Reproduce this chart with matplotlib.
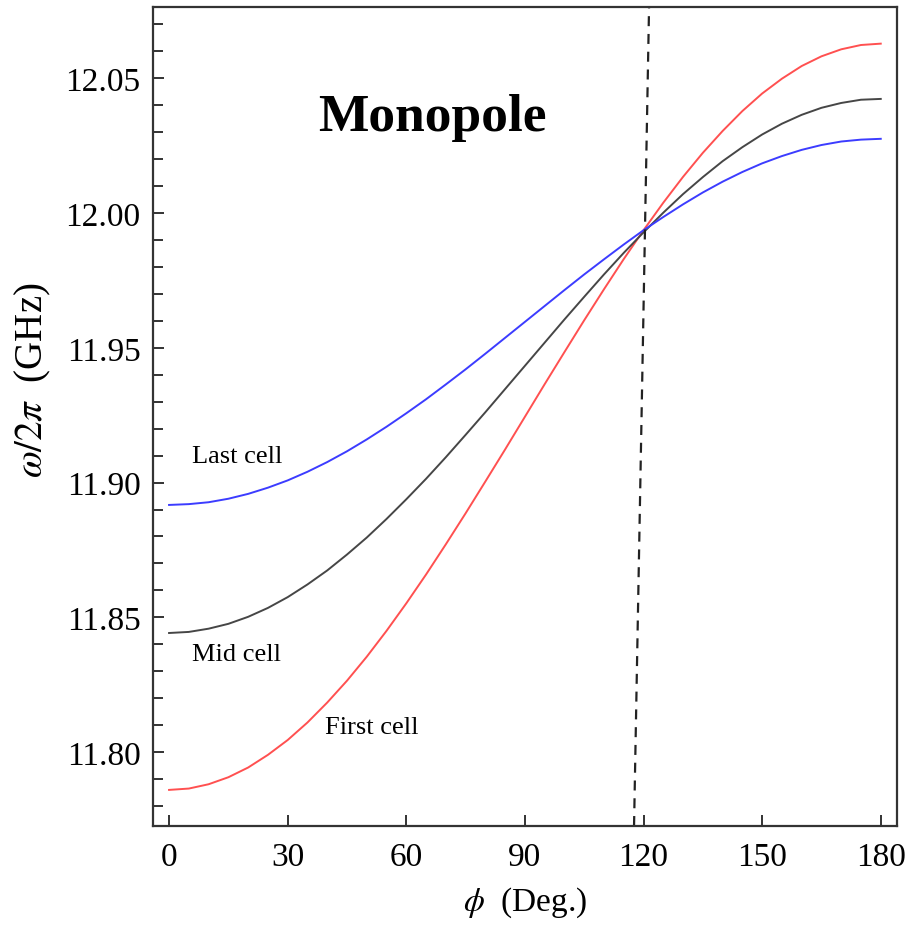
import matplotlib
matplotlib.use('Agg')
import matplotlib.pyplot as plt
from matplotlib.ticker import MultipleLocator

plt.rcParams['font.family'] = ['Liberation Serif', 'DejaVu Serif']
plt.rcParams['mathtext.fontset'] = 'stix'

# phase advance (deg.) and frequencies (GHz)
phi = [0, 5, 10, 15, 20, 25, 30, 35, 40, 45, 50, 55, 60, 65, 70, 75, 80, 85, 90,
       95, 100, 105, 110, 115, 120, 125, 130, 135, 140, 145, 150, 155, 160,
       165, 170, 175, 180]
first_cell = [11.7860, 11.7865, 11.7881, 11.7907, 11.7943, 11.7990, 11.8045,
              11.8110, 11.8184, 11.8265, 11.8354, 11.8450, 11.8552, 11.8659,
              11.8771, 11.8886, 11.9004, 11.9123, 11.9244, 11.9365, 11.9484,
              11.9602, 11.9717, 11.9829, 11.9936, 12.0038, 12.0134, 12.0223,
              12.0304, 12.0378, 12.0443, 12.0498, 12.0545, 12.0581, 12.0607,
              12.0623, 12.0628]
mid_cell = [11.8442, 11.8446, 11.8458, 11.8476, 11.8502, 11.8535, 11.8575,
            11.8622, 11.8674, 11.8733, 11.8796, 11.8865, 11.8938, 11.9014,
            11.9094, 11.9177, 11.9261, 11.9347, 11.9433, 11.9519, 11.9605,
            11.9689, 11.9772, 11.9852, 11.9928, 12.0001, 12.0070, 12.0133,
            12.0192, 12.0244, 12.0291, 12.0331, 12.0364, 12.0390, 12.0408,
            12.0420, 12.0423]
last_cell = [11.8917, 11.8920, 11.8927, 11.8940, 11.8958, 11.8981, 11.9008,
             11.9040, 11.9076, 11.9116, 11.9160, 11.9207, 11.9257, 11.9309,
             11.9364, 11.9420, 11.9478, 11.9537, 11.9596, 11.9655, 11.9714,
             11.9772, 11.9828, 11.9883, 11.9936, 11.9985, 12.0032, 12.0076,
             12.0116, 12.0152, 12.0184, 12.0211, 12.0234, 12.0252, 12.0265,
             12.0272, 12.0275]

# dashed marker line (slightly slanted in the reference)
dash_phi = [117.6, 121.4]
dash_freq = [11.7726, 12.0764]

x_ticks = [0, 30, 60, 90, 120, 150, 180]
y_ticks = [11.80, 11.85, 11.90, 11.95, 12.00, 12.05]

fig = plt.figure(figsize=(9.11, 9.28), dpi=100)
ax = fig.add_axes([0.168, 0.1088, 0.8166, 0.8826])

ax.plot(phi, first_cell, color='#ff5050', lw=1.4)
ax.plot(phi, mid_cell, color='#464646', lw=1.4)
ax.plot(phi, last_cell, color='#3c3cff', lw=1.4)
ax.plot(dash_phi, dash_freq, color='#222222', lw=1.6, dashes=(4.5, 3.5))

ax.set_xlim(-4.05, 184.1)
ax.set_ylim(11.7726, 12.0764)
ax.set_xticks(x_ticks)
ax.set_xticklabels([str(t) for t in x_ticks])
ax.set_yticks(y_ticks)
ax.set_yticklabels([f'{t:.2f}' for t in y_ticks])
ax.yaxis.set_minor_locator(MultipleLocator(0.01))

for s in ax.spines.values():
    s.set_color('#333333')
    s.set_linewidth(1.6)

ax.tick_params(axis='both', which='both', direction='in', color='#333333',
               width=1.4, labelsize=24, top=False, right=False)
ax.tick_params(axis='x', which='major', length=8, pad=11)
ax.tick_params(axis='y', which='major', length=8, pad=9)
ax.tick_params(axis='y', which='minor', length=7)

ax.set_xlabel(r'$\phi$  (Deg.)', fontsize=24, labelpad=9)
ax.set_ylabel(r'$\omega/2\pi$  (GHz)', fontsize=28)
ax.yaxis.set_label_coords(-0.135, 0.546)

ax.text(66.5, 12.0356, 'Monopole', fontsize=38.5, fontweight='bold',
        ha='center', va='center')
ax.text(5.8, 11.9099, 'Last cell', fontsize=19, ha='left', va='center')
ax.text(5.8, 11.8364, 'Mid cell', fontsize=19, ha='left', va='center')
ax.text(39.5, 11.8093, 'First cell', fontsize=19, ha='left', va='center')

fig.savefig('out.png', dpi=100)
